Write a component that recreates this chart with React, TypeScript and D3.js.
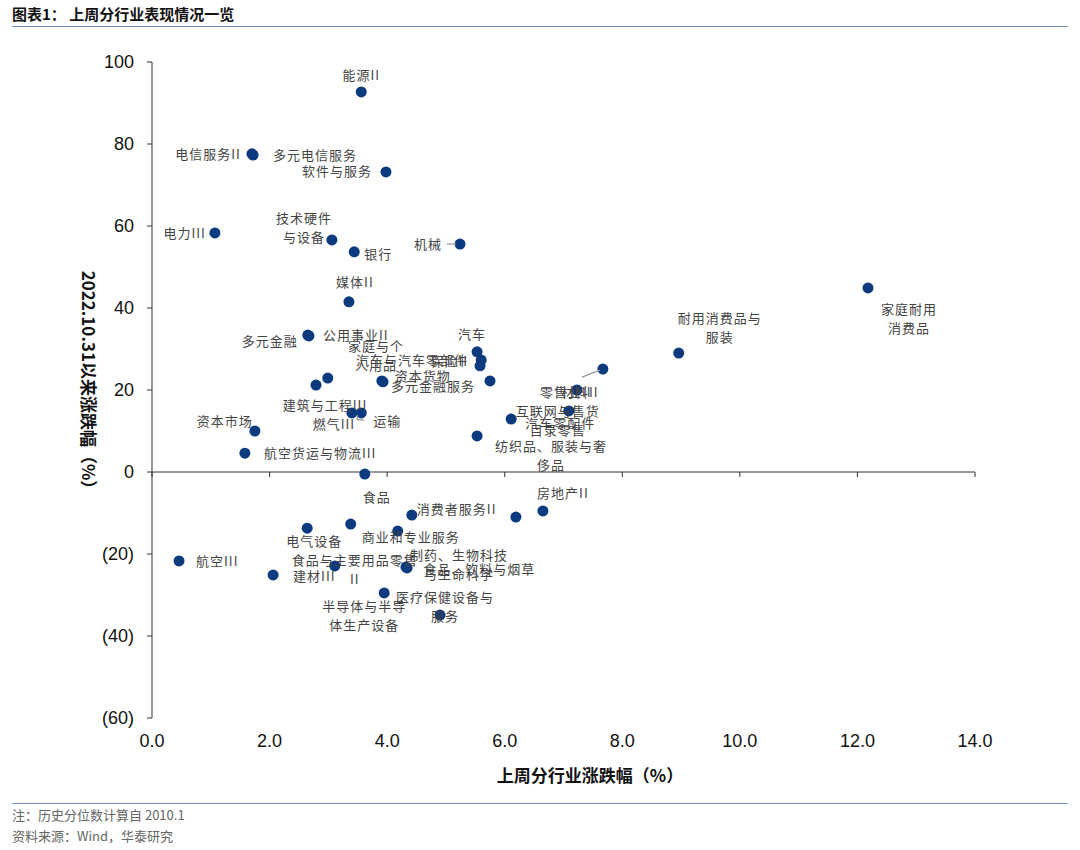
import { useEffect, useRef } from 'react';
import * as d3 from 'd3';

// sector names (empty string = point with no data label in the source)
const SECTORS = [
  '能源II', '电信服务II', '多元电信服务', '软件与服务', '电力III', '技术硬件与设备', '银行', '机械',
  '媒体II', '家庭耐用消费品', '耐用消费品与服装', '多元金融', '公用事业II', '', '建筑与工程III',
  '燃气III', '运输', '资本货物', '家庭与个人用品', '汽车', '保险II', '汽车与汽车零部件', '多元金融服务',
  '零售业II', '材料II', '互联网与售货目录零售', '汽车零配件', '纺织品、服装与奢侈品', '资本市场',
  '航空货运与物流III', '', '房地产II', '', '消费者服务II', '食品', '商业和专业服务', '电气设备',
  '航空III', '建材III', '食品与主要用品零售II', '制药、生物科技与生命科学', '食品、饮料与烟草',
  '半导体与半导体生产设备', '医疗保健设备与服务',
];
// last week's change (%)
const WEEK_CHG = [
  3.56, 1.70, 1.72, 3.98, 1.07, 3.06, 3.44, 5.24,
  3.35, 12.18, 8.96, 2.65, 2.67, 2.99, 2.79,
  3.40, 3.56, 3.91, 3.93, 5.53, 5.60, 5.58, 5.75,
  7.67, 7.23, 7.09, 6.11, 5.53, 1.75,
  1.58, 3.62, 6.65, 6.19, 4.42, 3.38, 4.18, 2.64,
  0.46, 2.06, 3.11, 4.32, 4.34,
  3.95, 4.90,
];
// change since 2022.10.31 (%)
const SINCE_CHG = [
  92.7, 77.6, 77.3, 73.2, 58.3, 56.6, 53.7, 55.6,
  41.5, 44.9, 29.0, 33.4, 33.2, 22.9, 21.2,
  14.4, 14.4, 22.2, 22.0, 29.3, 27.3, 25.9, 22.2,
  25.1, 20.0, 14.9, 12.9, 8.8, 10.0,
  4.6, -0.5, -9.5, -11.0, -10.5, -12.7, -14.4, -13.7,
  -21.7, -25.1, -22.9, -23.2, -23.4,
  -29.5, -34.9,
];
const X_TICKS = [0, 2, 4, 6, 8, 10, 12, 14];
const Y_TICKS = [-60, -40, -20, 0, 20, 40, 60, 80, 100];

type Place = { dx: number; dy: number; anchor: 'start' | 'middle' | 'end'; br?: number; leader?: [number, number][] };
// hand placed data labels, offsets from the marker
const LABEL_PLACE: Record<string, Place> = {
  '能源II': { dx: 0, dy: -16, anchor: 'middle' },
  '电信服务II': { dx: -11, dy: 1, anchor: 'end' },
  '多元电信服务': { dx: 20, dy: 0, anchor: 'start' },
  '软件与服务': { dx: -14, dy: 0, anchor: 'end' },
  '电力III': { dx: -9, dy: 0, anchor: 'end' },
  '技术硬件与设备': { dx: -28, dy: -21, anchor: 'middle', br: 4 },
  '银行': { dx: 10, dy: 3, anchor: 'start' },
  '机械': { dx: -18, dy: 0, anchor: 'end', leader: [[-13, 0], [-4, 0]] },
  '媒体II': { dx: 6, dy: -19, anchor: 'middle' },
  '家庭耐用消费品': { dx: 41, dy: 22, anchor: 'middle', br: 4 },
  '耐用消费品与服装': { dx: 41, dy: -35, anchor: 'middle', br: 6 },
  '多元金融': { dx: -10, dy: 6, anchor: 'end' },
  '公用事业II': { dx: 14, dy: 0, anchor: 'start' },
  '建筑与工程III': { dx: 9, dy: 20, anchor: 'middle' },
  '燃气III': { dx: -18, dy: 11, anchor: 'middle' },
  '运输': { dx: 12, dy: 8, anchor: 'start', leader: [[-4, 2], [-4, 7], [3, 7]] },
  '资本货物': { dx: 13, dy: -5, anchor: 'start' },
  '家庭与个人用品': { dx: -7, dy: -35, anchor: 'middle', br: 4 },
  '汽车': { dx: -5, dy: -17, anchor: 'middle' },
  '保险II': { dx: -13, dy: 1, anchor: 'end' },
  '汽车与汽车零部件': { dx: -12, dy: -5, anchor: 'end' },
  '多元金融服务': { dx: -15, dy: 5, anchor: 'end' },
  '零售业II': { dx: -37, dy: 23, anchor: 'middle', leader: [[-3, 1], [-21, 8]] },
  '材料II': { dx: -16, dy: 2, anchor: 'start' },
  '互联网与售货目录零售': { dx: -11, dy: 1, anchor: 'middle', br: 6 },
  '汽车零配件': { dx: 14, dy: 4, anchor: 'start' },
  '纺织品、服装与奢侈品': { dx: 74, dy: 11, anchor: 'middle', br: 8 },
  '资本市场': { dx: -30, dy: -10, anchor: 'middle' },
  '航空货运与物流III': { dx: 19, dy: 0, anchor: 'start' },
  '房地产II': { dx: 20, dy: -18, anchor: 'middle' },
  '消费者服务II': { dx: 5, dy: -6, anchor: 'start' },
  '食品': { dx: 26, dy: -27, anchor: 'middle' },
  '商业和专业服务': { dx: 13, dy: 6, anchor: 'middle' },
  '电气设备': { dx: 7, dy: 13, anchor: 'middle' },
  '航空III': { dx: 17, dy: 0, anchor: 'start' },
  '建材III': { dx: 20, dy: 2, anchor: 'start' },
  '食品与主要用品零售II': { dx: 20, dy: -5, anchor: 'middle', br: 9 },
  '制药、生物科技与生命科学': { dx: 53, dy: -12, anchor: 'middle', br: 7 },
  '食品、饮料与烟草': { dx: 16, dy: 2, anchor: 'start' },
  '半导体与半导体生产设备': { dx: -20, dy: 13, anchor: 'middle', br: 6 },
  '医疗保健设备与服务': { dx: 5, dy: -18, anchor: 'middle', br: 7 },
};

const W = 1080, H = 850;
const CJK = '"Noto Sans CJK SC", sans-serif';
const LATIN = '"Liberation Sans", Arial, sans-serif';
const DOT = '#0B3A7E';

export default function App() {
  const svgRef = useRef<SVGSVGElement>(null);

  useEffect(() => {
    const svg = d3.select(svgRef.current!);
    svg.selectAll('*').remove();

    const x = d3.scaleLinear().domain([0, 14]).range([152, 975]);
    const y = d3.scaleLinear().domain([-60, 100]).range([718, 62]);

    // header / footer
    svg.append('text').attr('x', 12).attr('y', 20).attr('font-family', CJK).attr('font-weight', 700)
      .attr('font-size', 15).attr('fill', '#111').text('图表1：  上周分行业表现情况一览');
    svg.append('line').attr('x1', 12).attr('x2', 1068).attr('y1', 26.5).attr('y2', 26.5)
      .attr('stroke', '#6F8FC4').attr('stroke-width', 1.2);
    svg.append('line').attr('x1', 12).attr('x2', 1068).attr('y1', 803.5).attr('y2', 803.5)
      .attr('stroke', '#6F8FC4').attr('stroke-width', 1.2);
    svg.append('text').attr('x', 12).attr('y', 820).attr('font-family', CJK).attr('font-size', 13)
      .attr('fill', '#666').text('注：历史分位数计算自 2010.1');
    svg.append('text').attr('x', 12).attr('y', 841).attr('font-family', CJK).attr('font-size', 13)
      .attr('fill', '#666').text('资料来源：Wind，华泰研究');

    const axisColor = '#333';
    // y axis
    svg.append('line').attr('x1', x(0)).attr('x2', x(0)).attr('y1', y(100)).attr('y2', y(-60))
      .attr('stroke', axisColor);
    svg.append('g').selectAll('line').data(Y_TICKS).join('line')
      .attr('x1', x(0) - 5).attr('x2', x(0)).attr('y1', (d) => y(d)).attr('y2', (d) => y(d))
      .attr('stroke', axisColor);
    svg.append('g').selectAll('text').data(Y_TICKS).join('text')
      .attr('x', x(0) - 18).attr('y', (d) => y(d)).attr('dy', '0.35em').attr('text-anchor', 'end')
      .attr('font-family', LATIN).attr('font-size', 18).attr('fill', '#111')
      .text((d) => (d < 0 ? `(${Math.abs(d)})` : `${d}`));

    // x axis at y = 0, labels at the bottom
    svg.append('line').attr('x1', x(0)).attr('x2', x(14)).attr('y1', y(0)).attr('y2', y(0))
      .attr('stroke', axisColor);
    svg.append('g').selectAll('line').data(X_TICKS).join('line')
      .attr('x1', (d) => x(d)).attr('x2', (d) => x(d)).attr('y1', y(0)).attr('y2', y(0) + 5)
      .attr('stroke', axisColor);
    svg.append('g').selectAll('text').data(X_TICKS).join('text')
      .attr('x', (d) => x(d)).attr('y', 741).attr('dy', '0.35em').attr('text-anchor', 'middle')
      .attr('font-family', LATIN).attr('font-size', 18).attr('fill', '#111')
      .text((d) => d.toFixed(1));

    svg.append('text').attr('x', 590).attr('y', 776).attr('dy', '0.35em').attr('text-anchor', 'middle')
      .attr('font-family', CJK).attr('font-weight', 700).attr('font-size', 17).attr('fill', '#111')
      .text('上周分行业涨跌幅（%）');
    svg.append('text').attr('transform', 'translate(88,384) rotate(90)').attr('dy', '0.35em')
      .attr('text-anchor', 'middle').attr('font-family', CJK).attr('font-weight', 700)
      .attr('font-size', 17).attr('fill', '#111').text('2022.10.31以来涨跌幅（%）');

    const idx = d3.range(SECTORS.length);

    // markers
    svg.append('g').selectAll('circle').data(idx).join('circle')
      .attr('cx', (i) => x(WEEK_CHG[i])).attr('cy', (i) => y(SINCE_CHG[i])).attr('r', 5.5)
      .attr('fill', DOT);

    // leader lines
    const line = d3.line();
    idx.forEach((i) => {
      const p = LABEL_PLACE[SECTORS[i]];
      if (!p?.leader) return;
      const cx = x(WEEK_CHG[i]), cy = y(SINCE_CHG[i]);
      svg.append('path').attr('d', line(p.leader.map(([a, b]) => [cx + a, cy + b]))!)
        .attr('fill', 'none').attr('stroke', '#999').attr('stroke-width', 1.2);
    });

    // data labels
    const labels = svg.append('g').attr('font-family', CJK).attr('font-size', 13)
      .attr('fill', '#444').attr('letter-spacing', 1);
    idx.forEach((i) => {
      const name = SECTORS[i];
      const p = LABEL_PLACE[name];
      if (!name || !p) return;
      const cx = x(WEEK_CHG[i]) + p.dx, cy = y(SINCE_CHG[i]) + p.dy;
      const lines = p.br ? [name.slice(0, p.br), name.slice(p.br)] : [name];
      lines.forEach((t, k) => {
        labels.append('text').attr('x', cx).attr('y', cy + k * 19).attr('dy', '0.35em')
          .attr('text-anchor', p.anchor).text(t);
      });
    });
  }, []);

  return (
    <div style={{ position: 'absolute', left: 0, top: 0, width: W, height: H, background: '#fff' }}>
      <svg ref={svgRef} width={W} height={H} />
    </div>
  );
}
